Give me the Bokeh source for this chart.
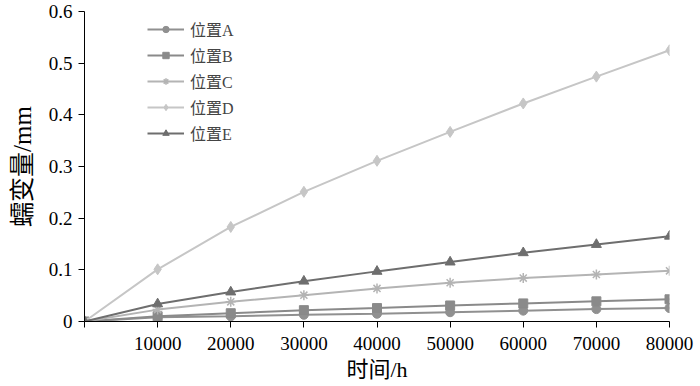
from bokeh.plotting import figure
from bokeh.models import Range1d, Legend, LegendItem, FixedTicker
from bokeh.embed import file_html
from bokeh.resources import INLINE

hours = [0, 10000, 20000, 30000, 40000, 50000, 60000, 70000, 80000]
pos_a = [0, 0.008, 0.010, 0.013, 0.015, 0.018, 0.021, 0.024, 0.026]
pos_b = [0, 0.010, 0.016, 0.022, 0.026, 0.031, 0.035, 0.039, 0.043]
pos_c = [0, 0.023, 0.038, 0.051, 0.064, 0.075, 0.084, 0.091, 0.098]
pos_d = [0, 0.101, 0.183, 0.251, 0.311, 0.367, 0.422, 0.474, 0.525]
pos_e = [0, 0.034, 0.057, 0.078, 0.097, 0.115, 0.133, 0.149, 0.165]
names = ["位置A", "位置B", "位置C", "位置D", "位置E"]
x_ticks = [0, 10000, 20000, 30000, 40000, 50000, 60000, 70000, 80000]
y_ticks = [0, 0.1, 0.2, 0.3, 0.4, 0.5, 0.6]

FONT = "Liberation Serif, Noto Sans CJK SC"

p = figure(width=700, height=386, output_backend="svg", toolbar_location=None,
           x_range=Range1d(0, 80000), y_range=Range1d(0, 0.6),
           min_border_left=84, min_border_right=31, min_border_top=11, min_border_bottom=65)
p.outline_line_color = None
p.xgrid.visible = False
p.ygrid.visible = False

series = [pos_a, pos_b, pos_c, pos_d, pos_e]
colors = ["#909090", "#8a8a8a", "#b4b4b4", "#c6c6c6", "#6e6e6e"]
markers = ["circle", "square", "asterisk", "diamond", "triangle"]
sizes = [9, 9, 10, 11, 10]
items = []
for name, ys, col, mkr, sz in zip(names, series, colors, markers, sizes):
    ln = p.line(hours, ys, line_color=col, line_width=2)
    mk = p.scatter(hours, ys, marker=mkr, size=sz, fill_color=col, line_color=col,
                   line_width=1.5 if mkr == "asterisk" else 1)
    items.append(LegendItem(label=name, renderers=[ln, mk]))

legend = Legend(items=items, location=(63, 176), glyph_width=37, glyph_height=16,
                spacing=2, label_text_font=FONT, label_text_font_size="16px",
                label_standoff=6, background_fill_alpha=0, border_line_color=None,
                padding=0, margin=0, label_height=16)
p.add_layout(legend, "center")

p.xaxis.ticker = FixedTicker(ticks=x_ticks)
p.yaxis.ticker = FixedTicker(ticks=y_ticks)
p.xaxis.major_label_overrides = {0: ""}
p.yaxis.major_label_overrides = {0: "0", 0.1: "0.1", 0.2: "0.2", 0.3: "0.3", 0.4: "0.4", 0.5: "0.5", 0.6: "0.6"}
for ax in (p.xaxis, p.yaxis):
    ax.minor_tick_line_color = None
    ax.major_tick_in = 0
    ax.major_tick_out = 6
    ax.axis_line_color = "black"
    ax.major_tick_line_color = "black"
    ax.major_label_text_font = FONT
    ax.major_label_text_font_size = "19px"
    ax.major_label_text_color = "black"
    ax.axis_label_text_font = FONT
    ax.axis_label_text_font_style = "normal"
    ax.axis_label_text_color = "black"
p.xaxis.axis_label = "时间/h"
p.yaxis.axis_label = "蠕变量/mm"
p.xaxis.axis_label_text_font_size = "22px"
p.yaxis.axis_label_text_font_size = "25px"
p.xaxis.major_label_standoff = 9
p.yaxis.major_label_standoff = 6
p.xaxis.axis_label_standoff = 4
p.yaxis.axis_label_standoff = 10

open("out.html", "w").write(file_html(p, INLINE))
